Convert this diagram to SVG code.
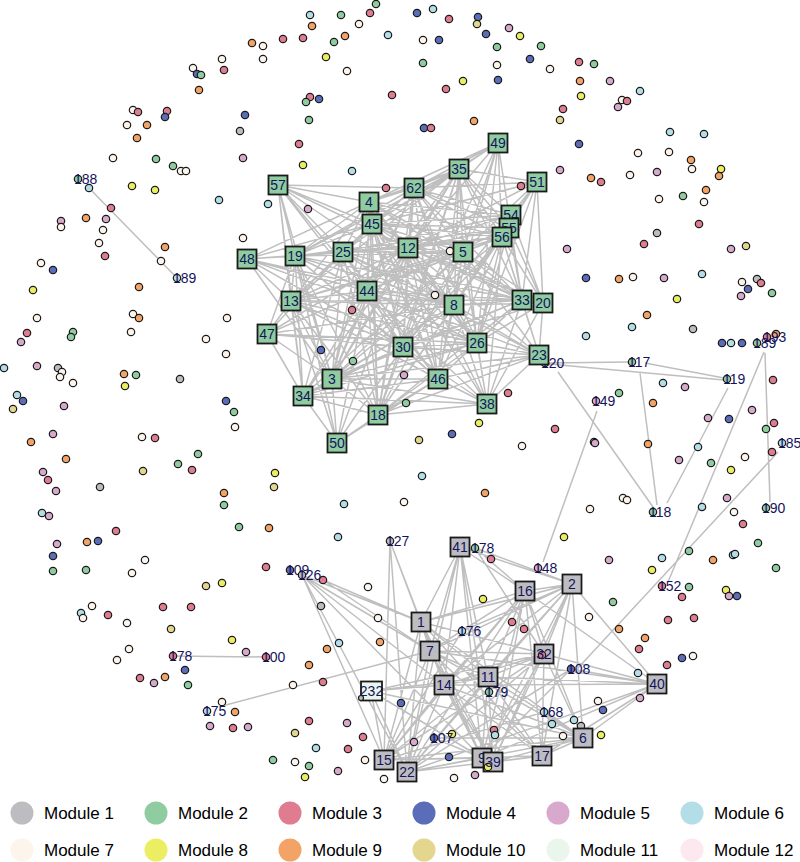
<svg xmlns="http://www.w3.org/2000/svg" width="800" height="862" viewBox="0 0 800 862">
<style>
.e{fill:none;stroke:#bfbfbf;stroke-width:1.5}
.d{stroke:#1a1a1a;stroke-width:1.2}
.s{stroke:#1a1a1a;stroke-width:1.8}
.k1{fill:#bdbcc0}.k2{fill:#8fcca0}.k3{fill:#e07c90}.k4{fill:#5b6cb8}.k5{fill:#d8a9cd}.k6{fill:#b3dde7}.k7{fill:#fdf4ec}.k8{fill:#ebee62}.k9{fill:#f3a365}.k10{fill:#e3d68f}.k11{fill:#eaf5ec}.k12{fill:#fce8ef}
.t{font-family:"Liberation Sans",Arial,sans-serif;font-size:14px;fill:#14145e}
.tc{text-anchor:middle}
.lg{font-family:"Liberation Sans",Arial,sans-serif;font-size:17px;fill:#000}
</style>
<rect width="800" height="862" fill="#fff"/>
<g id="connectors">
<path class="e" d="M369 202L372 224M369 202L414 188M369 202L459 169M369 202L408 248M369 202L463 252M369 202L343 252M369 202L295 256M369 202L367 291M369 202L291 301M369 202L454 305M369 202L522 300M369 202L403 347M369 202L477 343M369 202L438 379M369 202L332 379M369 202L378 415M369 202L502 237
M372 224L414 188M372 224L459 169M372 224L408 248M372 224L463 252M372 224L343 252M372 224L295 256M372 224L367 291M372 224L291 301M372 224L454 305M372 224L522 300M372 224L403 347M372 224L477 343M372 224L438 379M372 224L332 379M372 224L378 415M372 224L502 237
M414 188L459 169M414 188L408 248M414 188L463 252M414 188L343 252M414 188L295 256M414 188L367 291M414 188L291 301M414 188L454 305M414 188L522 300M414 188L403 347M414 188L477 343M414 188L438 379M414 188L332 379M414 188L378 415M414 188L502 237
M459 169L408 248M459 169L463 252M459 169L343 252M459 169L295 256M459 169L367 291M459 169L291 301M459 169L454 305M459 169L522 300M459 169L403 347M459 169L477 343M459 169L438 379M459 169L332 379M459 169L378 415M459 169L502 237
M408 248L463 252M408 248L343 252M408 248L295 256M408 248L367 291M408 248L291 301M408 248L454 305M408 248L522 300M408 248L403 347M408 248L477 343M408 248L438 379M408 248L332 379M408 248L378 415M408 248L502 237
M463 252L343 252M463 252L295 256M463 252L367 291M463 252L291 301M463 252L454 305M463 252L522 300M463 252L403 347M463 252L477 343M463 252L438 379M463 252L332 379M463 252L378 415M463 252L502 237
M343 252L295 256M343 252L367 291M343 252L291 301M343 252L454 305M343 252L522 300M343 252L403 347M343 252L477 343M343 252L438 379M343 252L332 379M343 252L378 415M343 252L502 237
M295 256L367 291M295 256L291 301M295 256L454 305M295 256L522 300M295 256L403 347M295 256L477 343M295 256L438 379M295 256L332 379M295 256L378 415M295 256L502 237
M367 291L291 301M367 291L454 305M367 291L522 300M367 291L403 347M367 291L477 343M367 291L438 379M367 291L332 379M367 291L378 415M367 291L502 237
M291 301L454 305M291 301L522 300M291 301L403 347M291 301L477 343M291 301L438 379M291 301L332 379M291 301L378 415M291 301L502 237
M454 305L522 300M454 305L403 347M454 305L477 343M454 305L438 379M454 305L332 379M454 305L378 415M454 305L502 237
M522 300L403 347M522 300L477 343M522 300L438 379M522 300L332 379M522 300L378 415M522 300L502 237
M403 347L477 343M403 347L438 379M403 347L332 379M403 347L378 415M403 347L502 237
M477 343L438 379M477 343L332 379M477 343L378 415M477 343L502 237
M438 379L332 379M438 379L378 415M438 379L502 237M332 379L378 415M332 379L502 237M378 415L502 237
M498 143L459 169M498 143L414 188M498 143L369 202M498 143L408 248M498 143L372 224M498 143L463 252M498 143L454 305M498 143L477 343M498 143L502 237M498 143L403 347M498 143L522 300
M278 185L369 202M278 185L414 188M278 185L372 224M278 185L295 256M278 185L291 301M278 185L343 252M278 185L408 248M278 185L367 291M278 185L303 396M278 185L403 347M278 185L454 305M278 185L332 379
M537 182L414 188M537 182L459 169M537 182L408 248M537 182L463 252M537 182L511 215M537 182L502 237M537 182L522 300M537 182L543 303M537 182L477 343M537 182L454 305M537 182L372 224
M247 259L295 256M247 259L343 252M247 259L372 224M247 259L369 202M247 259L408 248M247 259L367 291M247 259L403 347M247 259L291 301M247 259L454 305M247 259L332 379M247 259L477 343
M267 334L291 301M267 334L367 291M267 334L403 347M267 334L332 379M267 334L303 396M267 334L295 256M267 334L343 252M267 334L454 305M267 334L477 343M267 334L408 248
M337 443L303 396M337 443L378 415M337 443L332 379M337 443L291 301M337 443L403 347M337 443L367 291M337 443L438 379M337 443L295 256M337 443L408 248
M303 396L291 301M303 396L332 379M303 396L378 415M303 396L403 347M303 396L367 291M303 396L438 379M303 396L295 256M303 396L343 252M303 396L477 343M303 396L487 404M303 396L454 305M303 396L408 248M303 396L463 252
M487 404L438 379M487 404L477 343M487 404L539 355M487 404L522 300M487 404L543 303M487 404L378 415M487 404L403 347M487 404L454 305M487 404L463 252M487 404L502 237M487 404L332 379M487 404L408 248M487 404L367 291M487 404L372 224
M543 303L522 300M543 303L539 355M543 303L502 237M543 303L511 215M543 303L509 228M543 303L477 343M543 303L463 252M543 303L454 305M543 303L408 248M543 303L372 224M543 303L403 347
M539 355L522 300M539 355L477 343M539 355L403 347M539 355L438 379M539 355L454 305M539 355L463 252M539 355L502 237M539 355L408 248M539 355L367 291M539 355L332 379M539 355L378 415M539 355L343 252M539 355L545 363
M511 215L459 169M511 215L414 188M511 215L408 248M511 215L372 224M511 215L369 202M511 215L454 305M511 215L343 252M511 215L403 347
M509 228L459 169M509 228L414 188M509 228L408 248M509 228L372 224M509 228L367 291M509 228L477 343M509 228L522 300M509 228L295 256"/>
<path class="e" d="M390 541L421 622M390 541L384 760M390 541L407 772M390 541L444 685
M302 575L421 622M302 575L430 651M302 575L384 760M302 575L444 685M302 575L407 772M302 575L482 758M323 580L421 622M323 580L430 651
M460 547L421 622M460 547L430 651M460 547L444 685M460 547L525 591M460 547L572 584M460 547L488 677M460 547L482 758M460 547L493 762M460 547L407 772
M475 548L572 584M475 548L525 591M475 548L544 654
M421 622L525 591M421 622L572 584M421 622L488 677M421 622L444 685M421 622L384 760M421 622L407 772M421 622L482 758M421 622L493 762M421 622L583 738M421 622L542 756M421 622L544 654M421 622L430 651
M430 651L525 591M430 651L572 584M430 651L544 654M430 651L488 677M430 651L482 758M430 651L493 762M430 651L407 772M430 651L384 760M430 651L583 738M430 651L542 756M430 651L657 684
M444 685L525 591M444 685L572 584M444 685L544 654M444 685L488 677M444 685L482 758M444 685L493 762M444 685L407 772M444 685L384 760M444 685L542 756M444 685L583 738M444 685L657 684M444 685L371 691
M371 691L488 677M371 691L384 760M371 691L407 772M371 691L482 758M371 691L583 738M371 691L544 654
M525 591L572 584M525 591L544 654M525 591L488 677M525 591L482 758M525 591L493 762M525 591L407 772M525 591L384 760M525 591L542 756M525 591L583 738M525 591L657 684
M572 584L544 654M572 584L488 677M572 584L482 758M572 584L493 762M572 584L542 756M572 584L583 738M572 584L657 684M572 584L407 772
M544 654L482 758M544 654L493 762M544 654L542 756M544 654L583 738M544 654L657 684M544 654L488 677M544 654L407 772M544 654L384 760
M488 677L482 758M488 677L493 762M488 677L542 756M488 677L583 738M488 677L657 684M488 677L384 760M488 677L407 772
M657 684L583 738M657 684L482 758M657 684L407 772M657 684L571 669M657 684L542 756
M583 738L542 756M583 738L493 762M583 738L407 772M583 738L384 760M542 756L493 762M542 756L407 772M542 756L384 760M482 758L407 772M482 758L384 760
M434 738L482 758M434 738L583 738M462 631L572 584M462 631L384 760M571 669L482 758M571 669L407 772M544 712L583 738M544 712L384 760"/>
<path class="e" d="M89 188L177 278M173 656L266 657M222 706L430 651
M549 363L628 362M549 364L724 380M645 363L724 378M558 372L653 507M640 373L657 505M728 388L667 503M597 411L543 562
M764 352L668 582M765 353L770 502M778 452L578 668"/>
</g>
<g id="dots">
<g id="v1"><circle class="d k6" cx="310" cy="15" r="3.7"/></g>
<g id="v2"><circle class="d k2" cx="341" cy="15" r="3.7"/></g>
<g id="v3"><circle class="d k3" cx="370" cy="13" r="3.7"/></g>
<g id="v4"><circle class="d k2" cx="376" cy="4" r="3.7"/></g>
<g id="v5"><circle class="d k9" cx="312" cy="26" r="3.7"/></g>
<g id="v6"><circle class="d k7" cx="359" cy="24" r="3.7"/></g>
<g id="v7"><circle class="d k6" cx="388" cy="35" r="3.7"/></g>
<g id="v8"><circle class="d k9" cx="252" cy="43" r="3.7"/></g>
<g id="v9"><circle class="d k7" cx="263" cy="46" r="3.7"/></g>
<g id="v10"><circle class="d k3" cx="283" cy="39" r="3.7"/></g>
<g id="v11"><circle class="d k3" cx="303" cy="38" r="3.7"/></g>
<g id="v12"><circle class="d k2" cx="334" cy="42" r="3.7"/></g>
<g id="v13"><circle class="d k9" cx="345" cy="36" r="3.7"/></g>
<g id="v14"><circle class="d k8" cx="326" cy="57" r="3.7"/></g>
<g id="v15"><circle class="d k7" cx="222" cy="59" r="3.7"/></g>
<g id="v16"><circle class="d k7" cx="263" cy="59" r="3.7"/></g>
<g id="v17"><circle class="d k7" cx="193" cy="68" r="3.7"/></g>
<g id="v18"><circle class="d k4" cx="197" cy="74" r="3.7"/></g>
<g id="v19"><circle class="d k2" cx="201" cy="75" r="3.7"/></g>
<g id="v20"><circle class="d k3" cx="224" cy="70" r="3.7"/></g>
<g id="v21"><circle class="d k7" cx="347" cy="71" r="3.7"/></g>
<g id="v22"><circle class="d k9" cx="199" cy="90" r="3.7"/></g>
<g id="v23"><circle class="d k3" cx="392" cy="95" r="3.7"/></g>
<g id="v24"><circle class="d k3" cx="310" cy="97" r="3.7"/></g>
<g id="v25"><circle class="d k2" cx="306" cy="102" r="3.7"/></g>
<g id="v26"><circle class="d k4" cx="319" cy="99" r="3.7"/></g>
<g id="v27"><circle class="d k7" cx="133" cy="110" r="3.7"/></g>
<g id="v28"><circle class="d k3" cx="138" cy="112" r="3.7"/></g>
<g id="v29"><circle class="d k3" cx="167" cy="111" r="3.7"/></g>
<g id="v30"><circle class="d k4" cx="165" cy="117" r="3.7"/></g>
<g id="v31"><circle class="d k4" cx="245" cy="115" r="3.7"/></g>
<g id="v32"><circle class="d k2" cx="309" cy="120" r="3.7"/></g>
<g id="v33"><circle class="d k7" cx="127" cy="125" r="3.7"/></g>
<g id="v34"><circle class="d k9" cx="147" cy="125" r="3.7"/></g>
<g id="v35"><circle class="d k9" cx="137" cy="138" r="3.7"/></g>
<g id="v36"><circle class="d k1" cx="240" cy="131" r="3.7"/></g>
<g id="v37"><circle class="d k3" cx="299" cy="144" r="3.7"/></g>
<g id="v38"><circle class="d k5" cx="243" cy="158" r="3.7"/></g>
<g id="v39"><circle class="d k7" cx="113" cy="158" r="3.7"/></g>
<g id="v40"><circle class="d k2" cx="156" cy="159" r="3.7"/></g>
<g id="v41"><circle class="d k2" cx="173" cy="166" r="3.7"/></g>
<g id="v42"><circle class="d k7" cx="181" cy="171" r="3.7"/></g>
<g id="v43"><circle class="d k7" cx="186" cy="171" r="3.7"/></g>
<g id="v44"><circle class="d k8" cx="303" cy="165" r="3.7"/></g>
<g id="v45"><circle class="d k6" cx="352" cy="171" r="3.7"/></g>
<g id="v46"><circle class="d k3" cx="386" cy="188" r="3.7"/></g>
<g id="v48"><circle class="d k6" cx="89" cy="188" r="3.7"/></g>
<g id="v49"><circle class="d k8" cx="132" cy="186" r="3.7"/></g>
<g id="v50"><circle class="d k8" cx="155" cy="190" r="3.7"/></g>
<g id="v51"><circle class="d k6" cx="219" cy="200" r="3.7"/></g>
<g id="v52"><circle class="d k6" cx="268" cy="204" r="3.7"/></g>
<g id="v53"><circle class="d k5" cx="308" cy="209" r="3.7"/></g>
<g id="v54"><circle class="d k3" cx="111" cy="208" r="3.7"/></g>
<g id="v55"><circle class="d k5" cx="61" cy="221" r="3.7"/></g>
<g id="v56"><circle class="d k7" cx="61" cy="227" r="3.7"/></g>
<g id="v57"><circle class="d k9" cx="86" cy="218" r="3.7"/></g>
<g id="v58"><circle class="d k5" cx="106" cy="219" r="3.7"/></g>
<g id="v59"><circle class="d k7" cx="103" cy="230" r="3.7"/></g>
<g id="v60"><circle class="d k7" cx="99" cy="243" r="3.7"/></g>
<g id="v61"><circle class="d k3" cx="105" cy="256" r="3.7"/></g>
<g id="v62"><circle class="d k9" cx="165" cy="247" r="3.7"/></g>
<g id="v63"><circle class="d k7" cx="161" cy="261" r="3.7"/></g>
<g id="v64"><circle class="d k7" cx="41" cy="263" r="3.7"/></g>
<g id="v65"><circle class="d k4" cx="53" cy="270" r="3.7"/></g>
<g id="v66"><circle class="d k8" cx="33" cy="290" r="3.7"/></g>
<g id="v67"><circle class="d k9" cx="139" cy="287" r="3.7"/></g>
<g id="v68"><circle class="d k7" cx="243" cy="238" r="3.7"/></g>
<g id="v70"><circle class="d k4" cx="417" cy="13" r="3.7"/></g>
<g id="v71"><circle class="d k6" cx="433" cy="9" r="3.7"/></g>
<g id="v72"><circle class="d k3" cx="449" cy="19" r="3.7"/></g>
<g id="v73"><circle class="d k4" cx="478" cy="17" r="3.7"/></g>
<g id="v74"><circle class="d k10" cx="477" cy="24" r="3.7"/></g>
<g id="v75"><circle class="d k4" cx="486" cy="34" r="3.7"/></g>
<g id="v76"><circle class="d k5" cx="509" cy="28" r="3.7"/></g>
<g id="v77"><circle class="d k8" cx="520" cy="36" r="3.7"/></g>
<g id="v78"><circle class="d k7" cx="423" cy="40" r="3.7"/></g>
<g id="v79"><circle class="d k4" cx="439" cy="40" r="3.7"/></g>
<g id="v80"><circle class="d k2" cx="497" cy="47" r="3.7"/></g>
<g id="v81"><circle class="d k2" cx="541" cy="46" r="3.7"/></g>
<g id="v82"><circle class="d k4" cx="530" cy="59" r="3.7"/></g>
<g id="v83"><circle class="d k7" cx="497" cy="65" r="3.7"/></g>
<g id="v84"><circle class="d k7" cx="550" cy="69" r="3.7"/></g>
<g id="v85"><circle class="d k3" cx="579" cy="62" r="3.7"/></g>
<g id="v86"><circle class="d k2" cx="594" cy="64" r="3.7"/></g>
<g id="v87"><circle class="d k2" cx="423" cy="63" r="3.7"/></g>
<g id="v88"><circle class="d k8" cx="463" cy="81" r="3.7"/></g>
<g id="v89"><circle class="d k4" cx="498" cy="80" r="3.7"/></g>
<g id="v90"><circle class="d k9" cx="580" cy="81" r="3.7"/></g>
<g id="v91"><circle class="d k5" cx="610" cy="81" r="3.7"/></g>
<g id="v92"><circle class="d k3" cx="446" cy="89" r="3.7"/></g>
<g id="v93"><circle class="d k8" cx="581" cy="96" r="3.7"/></g>
<g id="v94"><circle class="d k7" cx="622" cy="100" r="3.7"/></g>
<g id="v95"><circle class="d k3" cx="627" cy="101" r="3.7"/></g>
<g id="v96"><circle class="d k6" cx="640" cy="91" r="3.7"/></g>
<g id="v97"><circle class="d k5" cx="618" cy="107" r="3.7"/></g>
<g id="v98"><circle class="d k3" cx="563" cy="109" r="3.7"/></g>
<g id="v99"><circle class="d k10" cx="560" cy="120" r="3.7"/></g>
<g id="v100"><circle class="d k4" cx="424" cy="128" r="3.7"/></g>
<g id="v101"><circle class="d k3" cx="431" cy="128" r="3.7"/></g>
<g id="v102"><circle class="d k9" cx="474" cy="121" r="3.7"/></g>
<g id="v103"><circle class="d k4" cx="579" cy="144" r="3.7"/></g>
<g id="v104"><circle class="d k6" cx="670" cy="132" r="3.7"/></g>
<g id="v105"><circle class="d k6" cx="704" cy="134" r="3.7"/></g>
<g id="v106"><circle class="d k7" cx="638" cy="153" r="3.7"/></g>
<g id="v107"><circle class="d k7" cx="669" cy="152" r="3.7"/></g>
<g id="v108"><circle class="d k9" cx="691" cy="160" r="3.7"/></g>
<g id="v109"><circle class="d k7" cx="692" cy="169" r="3.7"/></g>
<g id="v110"><circle class="d k8" cx="721" cy="169" r="3.7"/></g>
<g id="v111"><circle class="d k9" cx="719" cy="176" r="3.7"/></g>
<g id="v112"><circle class="d k5" cx="560" cy="170" r="3.7"/></g>
<g id="v113"><circle class="d k9" cx="591" cy="178" r="3.7"/></g>
<g id="v114"><circle class="d k3" cx="601" cy="182" r="3.7"/></g>
<g id="v115"><circle class="d k7" cx="630" cy="175" r="3.7"/></g>
<g id="v116"><circle class="d k5" cx="657" cy="172" r="3.7"/></g>
<g id="v117"><circle class="d k3" cx="521" cy="186" r="3.7"/></g>
<g id="v118"><circle class="d k2" cx="683" cy="196" r="3.7"/></g>
<g id="v119"><circle class="d k9" cx="706" cy="190" r="3.7"/></g>
<g id="v120"><circle class="d k7" cx="659" cy="199" r="3.7"/></g>
<g id="v121"><circle class="d k7" cx="704" cy="202" r="3.7"/></g>
<g id="v122"><circle class="d k3" cx="699" cy="224" r="3.7"/></g>
<g id="v123"><circle class="d k1" cx="657" cy="233" r="3.7"/></g>
<g id="v124"><circle class="d k3" cx="644" cy="244" r="3.7"/></g>
<g id="v125"><circle class="d k5" cx="731" cy="249" r="3.7"/></g>
<g id="v126"><circle class="d k10" cx="746" cy="246" r="3.7"/></g>
<g id="v127"><circle class="d k5" cx="567" cy="249" r="3.7"/></g>
<g id="v129"><circle class="d k4" cx="586" cy="278" r="3.7"/></g>
<g id="v130"><circle class="d k9" cx="619" cy="279" r="3.7"/></g>
<g id="v131"><circle class="d k7" cx="633" cy="277" r="3.7"/></g>
<g id="v132"><circle class="d k5" cx="664" cy="278" r="3.7"/></g>
<g id="v133"><circle class="d k6" cx="702" cy="274" r="3.7"/></g>
<g id="v134"><circle class="d k8" cx="677" cy="299" r="3.7"/></g>
<g id="v135"><circle class="d k9" cx="647" cy="315" r="3.7"/></g>
<g id="v136"><circle class="d k7" cx="742" cy="282" r="3.7"/></g>
<g id="v137"><circle class="d k1" cx="757" cy="279" r="3.7"/></g>
<g id="v138"><circle class="d k3" cx="761" cy="283" r="3.7"/></g>
<g id="v139"><circle class="d k4" cx="748" cy="289" r="3.7"/></g>
<g id="v140"><circle class="d k5" cx="741" cy="296" r="3.7"/></g>
<g id="v141"><circle class="d k2" cx="772" cy="293" r="3.7"/></g>
<g id="v142"><circle class="d k7" cx="435" cy="295" r="3.7"/></g>
<g id="v143"><circle class="d k3" cx="352" cy="310" r="3.7"/></g>
<g id="v144"><circle class="d k4" cx="321" cy="350" r="3.7"/></g>
<g id="v145"><circle class="d k2" cx="353" cy="361" r="3.7"/></g>
<g id="v146"><circle class="d k5" cx="404" cy="375" r="3.7"/></g>
<g id="v147"><circle class="d k2" cx="406" cy="403" r="3.7"/></g>
<g id="v148"><circle class="d k3" cx="508" cy="393" r="3.7"/></g>
<g id="v149"><circle class="d k8" cx="479" cy="423" r="3.7"/></g>
<g id="v150"><circle class="d k4" cx="452" cy="434" r="3.7"/></g>
<g id="v151"><circle class="d k10" cx="419" cy="440" r="3.7"/></g>
<g id="v152"><circle class="d k7" cx="522" cy="446" r="3.7"/></g>
<g id="v153"><circle class="d k3" cx="555" cy="429" r="3.7"/></g>
<g id="v154"><circle class="d k2" cx="234" cy="412" r="3.7"/></g>
<g id="v155"><circle class="d k7" cx="235" cy="427" r="3.7"/></g>
<g id="v156"><circle class="d k7" cx="37" cy="318" r="3.7"/></g>
<g id="v157"><circle class="d k7" cx="133" cy="314" r="3.7"/></g>
<g id="v158"><circle class="d k9" cx="139" cy="318" r="3.7"/></g>
<g id="v159"><circle class="d k7" cx="227" cy="318" r="3.7"/></g>
<g id="v160"><circle class="d k2" cx="73" cy="332" r="3.7"/></g>
<g id="v161"><circle class="d k2" cx="71" cy="337" r="3.7"/></g>
<g id="v162"><circle class="d k3" cx="27" cy="333" r="3.7"/></g>
<g id="v163"><circle class="d k5" cx="21" cy="342" r="3.7"/></g>
<g id="v164"><circle class="d k7" cx="131" cy="332" r="3.7"/></g>
<g id="v165"><circle class="d k7" cx="206" cy="339" r="3.7"/></g>
<g id="v166"><circle class="d k7" cx="226" cy="354" r="3.7"/></g>
<g id="v167"><circle class="d k6" cx="4" cy="368" r="3.7"/></g>
<g id="v168"><circle class="d k5" cx="37" cy="366" r="3.7"/></g>
<g id="v169"><circle class="d k1" cx="58" cy="368" r="3.7"/></g>
<g id="v170"><circle class="d k7" cx="62" cy="372" r="3.7"/></g>
<g id="v171"><circle class="d k7" cx="60" cy="377" r="3.7"/></g>
<g id="v172"><circle class="d k7" cx="73" cy="383" r="3.7"/></g>
<g id="v173"><circle class="d k9" cx="124" cy="374" r="3.7"/></g>
<g id="v174"><circle class="d k2" cx="136" cy="375" r="3.7"/></g>
<g id="v175"><circle class="d k8" cx="125" cy="386" r="3.7"/></g>
<g id="v176"><circle class="d k1" cx="180" cy="379" r="3.7"/></g>
<g id="v177"><circle class="d k6" cx="17" cy="395" r="3.7"/></g>
<g id="v178"><circle class="d k4" cx="23" cy="401" r="3.7"/></g>
<g id="v179"><circle class="d k10" cx="13" cy="409" r="3.7"/></g>
<g id="v180"><circle class="d k5" cx="64" cy="406" r="3.7"/></g>
<g id="v181"><circle class="d k4" cx="226" cy="401" r="3.7"/></g>
<g id="v182"><circle class="d k5" cx="53" cy="434" r="3.7"/></g>
<g id="v183"><circle class="d k9" cx="31" cy="442" r="3.7"/></g>
<g id="v184"><circle class="d k7" cx="142" cy="437" r="3.7"/></g>
<g id="v185"><circle class="d k3" cx="155" cy="438" r="3.7"/></g>
<g id="v186"><circle class="d k2" cx="198" cy="454" r="3.7"/></g>
<g id="v187"><circle class="d k2" cx="178" cy="464" r="3.7"/></g>
<g id="v188"><circle class="d k3" cx="192" cy="470" r="3.7"/></g>
<g id="v189"><circle class="d k9" cx="66" cy="459" r="3.7"/></g>
<g id="v190"><circle class="d k10" cx="143" cy="471" r="3.7"/></g>
<g id="v191"><circle class="d k5" cx="43" cy="472" r="3.7"/></g>
<g id="v192"><circle class="d k3" cx="48" cy="480" r="3.7"/></g>
<g id="v193"><circle class="d k5" cx="56" cy="491" r="3.7"/></g>
<g id="v194"><circle class="d k1" cx="100" cy="487" r="3.7"/></g>
<g id="v195"><circle class="d k8" cx="275" cy="473" r="3.7"/></g>
<g id="v196"><circle class="d k10" cx="274" cy="487" r="3.7"/></g>
<g id="v197"><circle class="d k9" cx="224" cy="493" r="3.7"/></g>
<g id="v198"><circle class="d k2" cx="224" cy="505" r="3.7"/></g>
<g id="v199"><circle class="d k6" cx="42" cy="513" r="3.7"/></g>
<g id="v200"><circle class="d k5" cx="49" cy="516" r="3.7"/></g>
<g id="v201"><circle class="d k2" cx="239" cy="527" r="3.7"/></g>
<g id="v202"><circle class="d k9" cx="269" cy="528" r="3.7"/></g>
<g id="v203"><circle class="d k3" cx="116" cy="531" r="3.7"/></g>
<g id="v204"><circle class="d k5" cx="57" cy="544" r="3.7"/></g>
<g id="v205"><circle class="d k9" cx="87" cy="542" r="3.7"/></g>
<g id="v206"><circle class="d k4" cx="98" cy="541" r="3.7"/></g>
<g id="v207"><circle class="d k4" cx="53" cy="556" r="3.7"/></g>
<g id="v208"><circle class="d k2" cx="53" cy="571" r="3.7"/></g>
<g id="v209"><circle class="d k2" cx="86" cy="570" r="3.7"/></g>
<g id="v210"><circle class="d k7" cx="145" cy="560" r="3.7"/></g>
<g id="v211"><circle class="d k7" cx="132" cy="573" r="3.7"/></g>
<g id="v212"><circle class="d k3" cx="266" cy="567" r="3.7"/></g>
<g id="v213"><circle class="d k10" cx="206" cy="586" r="3.7"/></g>
<g id="v214"><circle class="d k8" cx="222" cy="583" r="3.7"/></g>
<g id="v215"><circle class="d k7" cx="92" cy="606" r="3.7"/></g>
<g id="v216"><circle class="d k6" cx="81" cy="613" r="3.7"/></g>
<g id="v217"><circle class="d k7" cx="83" cy="618" r="3.7"/></g>
<g id="v218"><circle class="d k3" cx="108" cy="615" r="3.7"/></g>
<g id="v219"><circle class="d k7" cx="127" cy="623" r="3.7"/></g>
<g id="v220"><circle class="d k3" cx="163" cy="607" r="3.7"/></g>
<g id="v221"><circle class="d k3" cx="191" cy="607" r="3.7"/></g>
<g id="v222"><circle class="d k10" cx="171" cy="629" r="3.7"/></g>
<g id="v223"><circle class="d k8" cx="232" cy="640" r="3.7"/></g>
<g id="v224"><circle class="d k5" cx="246" cy="652" r="3.7"/></g>
<g id="v225"><circle class="d k7" cx="129" cy="649" r="3.7"/></g>
<g id="v226"><circle class="d k7" cx="117" cy="660" r="3.7"/></g>
<g id="v227"><circle class="d k4" cx="185" cy="670" r="3.7"/></g>
<g id="v228"><circle class="d k3" cx="140" cy="678" r="3.7"/></g>
<g id="v229"><circle class="d k5" cx="154" cy="683" r="3.7"/></g>
<g id="v230"><circle class="d k9" cx="165" cy="677" r="3.7"/></g>
<g id="v231"><circle class="d k2" cx="188" cy="685" r="3.7"/></g>
<g id="v232d"><circle class="d k7" cx="222" cy="702" r="3.7"/></g>
<g id="v233"><circle class="d k9" cx="235" cy="712" r="3.7"/></g>
<g id="v234"><circle class="d k5" cx="210" cy="726" r="3.7"/></g>
<g id="v235"><circle class="d k3" cx="233" cy="728" r="3.7"/></g>
<g id="v236"><circle class="d k5" cx="248" cy="727" r="3.7"/></g>
<g id="v237"><circle class="d k10" cx="295" cy="733" r="3.7"/></g>
<g id="v238"><circle class="d k2" cx="273" cy="760" r="3.7"/></g>
<g id="v239"><circle class="d k7" cx="295" cy="762" r="3.7"/></g>
<g id="v240"><circle class="d k7" cx="293" cy="685" r="3.7"/></g>
<g id="v241"><circle class="d k6" cx="344" cy="504" r="3.7"/></g>
<g id="v242"><circle class="d k7" cx="404" cy="502" r="3.7"/></g>
<g id="v243"><circle class="d k6" cx="422" cy="476" r="3.7"/></g>
<g id="v244"><circle class="d k9" cx="485" cy="493" r="3.7"/></g>
<g id="v245"><circle class="d k7" cx="590" cy="509" r="3.7"/></g>
<g id="v246"><circle class="d k8" cx="564" cy="537" r="3.7"/></g>
<g id="v247"><circle class="d k6" cx="338" cy="537" r="3.7"/></g>
<g id="v248"><circle class="d k5" cx="594" cy="442" r="3.7"/></g>
<g id="v249"><circle class="d k7" cx="368" cy="587" r="3.7"/></g>
<g id="v250"><circle class="d k3" cx="323" cy="580" r="3.7"/></g>
<g id="v251"><circle class="d k1" cx="321" cy="606" r="3.7"/></g>
<g id="v252"><circle class="d k7" cx="378" cy="618" r="3.7"/></g>
<g id="v253"><circle class="d k9" cx="380" cy="642" r="3.7"/></g>
<g id="v254"><circle class="d k6" cx="339" cy="643" r="3.7"/></g>
<g id="v255"><circle class="d k9" cx="327" cy="649" r="3.7"/></g>
<g id="v256"><circle class="d k9" cx="309" cy="665" r="3.7"/></g>
<g id="v257"><circle class="d k3" cx="323" cy="682" r="3.7"/></g>
<g id="v258"><circle class="d k4" cx="401" cy="703" r="3.7"/></g>
<g id="v259"><circle class="d k3" cx="309" cy="721" r="3.7"/></g>
<g id="v260"><circle class="d k5" cx="347" cy="723" r="3.7"/></g>
<g id="v261"><circle class="d k3" cx="363" cy="737" r="3.7"/></g>
<g id="v262"><circle class="d k6" cx="316" cy="748" r="3.7"/></g>
<g id="v263"><circle class="d k3" cx="348" cy="749" r="3.7"/></g>
<g id="v264"><circle class="d k5" cx="414" cy="742" r="3.7"/></g>
<g id="v265"><circle class="d k8" cx="452" cy="734" r="3.7"/></g>
<g id="v266"><circle class="d k2" cx="309" cy="766" r="3.7"/></g>
<g id="v267"><circle class="d k7" cx="365" cy="760" r="3.7"/></g>
<g id="v268"><circle class="d k5" cx="338" cy="771" r="3.7"/></g>
<g id="v269"><circle class="d k8" cx="305" cy="777" r="3.7"/></g>
<g id="v271"><circle class="d k4" cx="449" cy="757" r="3.7"/></g>
<g id="v272"><circle class="d k5" cx="475" cy="775" r="3.7"/></g>
<g id="v273"><circle class="d k7" cx="454" cy="778" r="3.7"/></g>
<g id="v274"><circle class="d k7" cx="384" cy="779" r="3.7"/></g>
<g id="v275"><circle class="d k3" cx="491" cy="559" r="3.7"/></g>
<g id="v276"><circle class="d k8" cx="483" cy="599" r="3.7"/></g>
<g id="v277"><circle class="d k3" cx="512" cy="622" r="3.7"/></g>
<g id="v278"><circle class="d k3" cx="524" cy="629" r="3.7"/></g>
<g id="v279"><circle class="d k5" cx="609" cy="560" r="3.7"/></g>
<g id="v280"><circle class="d k6" cx="662" cy="558" r="3.7"/></g>
<g id="v281"><circle class="d k8" cx="652" cy="570" r="3.7"/></g>
<g id="v282"><circle class="d k2" cx="613" cy="602" r="3.7"/></g>
<g id="v283"><circle class="d k7" cx="589" cy="617" r="3.7"/></g>
<g id="v284"><circle class="d k9" cx="619" cy="629" r="3.7"/></g>
<g id="v285"><circle class="d k9" cx="645" cy="638" r="3.7"/></g>
<g id="v286"><circle class="d k3" cx="639" cy="649" r="3.7"/></g>
<g id="v287"><circle class="d k3" cx="668" cy="620" r="3.7"/></g>
<g id="v288"><circle class="d k3" cx="667" cy="665" r="3.7"/></g>
<g id="v289d"><circle class="d k6" cx="638" cy="673" r="3.7"/></g>
<g id="v290d"><circle class="d k5" cx="640" cy="698" r="3.7"/></g>
<g id="v291"><circle class="d k7" cx="598" cy="701" r="3.7"/></g>
<g id="v292"><circle class="d k4" cx="603" cy="710" r="3.7"/></g>
<g id="v293"><circle class="d k6" cx="552" cy="724" r="3.7"/></g>
<g id="v294"><circle class="d k6" cx="574" cy="720" r="3.7"/></g>
<g id="v295"><circle class="d k1" cx="581" cy="726" r="3.7"/></g>
<g id="v296"><circle class="d k7" cx="563" cy="736" r="3.7"/></g>
<g id="v297"><circle class="d k8" cx="601" cy="735" r="3.7"/></g>
<g id="v298"><circle class="d k3" cx="494" cy="730" r="3.7"/></g>
<g id="v299"><circle class="d k6" cx="495" cy="735" r="3.7"/></g>
<g id="v300"><circle class="d k6" cx="586" cy="336" r="3.7"/></g>
<g id="v301"><circle class="d k6" cx="632" cy="327" r="3.7"/></g>
<g id="v302"><circle class="d k1" cx="693" cy="329" r="3.7"/></g>
<g id="v303"><circle class="d k4" cx="722" cy="343" r="3.7"/></g>
<g id="v304"><circle class="d k6" cx="731" cy="343" r="3.7"/></g>
<g id="v305"><circle class="d k4" cx="742" cy="343" r="3.7"/></g>
<g id="v306"><circle class="d k6" cx="663" cy="383" r="3.7"/></g>
<g id="v307"><circle class="d k5" cx="685" cy="387" r="3.7"/></g>
<g id="v308"><circle class="d k2" cx="619" cy="393" r="3.7"/></g>
<g id="v309"><circle class="d k9" cx="653" cy="403" r="3.7"/></g>
<g id="v310"><circle class="d k5" cx="595" cy="443" r="3.7"/></g>
<g id="v311"><circle class="d k9" cx="648" cy="444" r="3.7"/></g>
<g id="v312"><circle class="d k5" cx="708" cy="418" r="3.7"/></g>
<g id="v313"><circle class="d k4" cx="729" cy="419" r="3.7"/></g>
<g id="v314"><circle class="d k5" cx="752" cy="410" r="3.7"/></g>
<g id="v315"><circle class="d k3" cx="773" cy="380" r="3.7"/></g>
<g id="v316"><circle class="d k2" cx="766" cy="429" r="3.7"/></g>
<g id="v317"><circle class="d k3" cx="774" cy="423" r="3.7"/></g>
<g id="v318"><circle class="d k6" cx="698" cy="447" r="3.7"/></g>
<g id="v319"><circle class="d k5" cx="679" cy="460" r="3.7"/></g>
<g id="v320"><circle class="d k2" cx="711" cy="463" r="3.7"/></g>
<g id="v321"><circle class="d k7" cx="745" cy="457" r="3.7"/></g>
<g id="v322"><circle class="d k8" cx="731" cy="470" r="3.7"/></g>
<g id="v323"><circle class="d k3" cx="772" cy="452" r="3.7"/></g>
<g id="v324"><circle class="d k7" cx="623" cy="498" r="3.7"/></g>
<g id="v325"><circle class="d k7" cx="627" cy="500" r="3.7"/></g>
<g id="v326"><circle class="d k6" cx="702" cy="507" r="3.7"/></g>
<g id="v327"><circle class="d k5" cx="727" cy="498" r="3.7"/></g>
<g id="v328"><circle class="d k7" cx="734" cy="512" r="3.7"/></g>
<g id="v329"><circle class="d k3" cx="743" cy="524" r="3.7"/></g>
<g id="v330"><circle class="d k2" cx="758" cy="543" r="3.7"/></g>
<g id="v331"><circle class="d k2" cx="776" cy="568" r="3.7"/></g>
<g id="v332"><circle class="d k2" cx="689" cy="551" r="3.7"/></g>
<g id="v333"><circle class="d k9" cx="713" cy="560" r="3.7"/></g>
<g id="v334"><circle class="d k6" cx="733" cy="555" r="3.7"/></g>
<g id="v335"><circle class="d k6" cx="735" cy="554" r="3.7"/></g>
<g id="v336"><circle class="d k2" cx="689" cy="587" r="3.7"/></g>
<g id="v337"><circle class="d k3" cx="682" cy="597" r="3.7"/></g>
<g id="v338"><circle class="d k8" cx="726" cy="590" r="3.7"/></g>
<g id="v339"><circle class="d k5" cx="729" cy="596" r="3.7"/></g>
<g id="v340"><circle class="d k4" cx="737" cy="596" r="3.7"/></g>
<g id="v341"><circle class="d k3" cx="694" cy="618" r="3.7"/></g>
<g id="v342"><circle class="d k4" cx="682" cy="658" r="3.7"/></g>
<g id="v343"><circle class="d k7" cx="693" cy="656" r="3.7"/></g>
</g>
<g id="labeled-nodes">
<g id="l188"><circle class="d k2" cx="78" cy="179" r="3.7"/><text class="t" x="74" y="184">188</text></g>
<g id="l189"><circle class="d k6" cx="177" cy="278" r="3.7"/><text class="t" x="173" y="283">189</text></g>
<g id="l178a"><circle class="d k3" cx="173" cy="656" r="3.7"/><text class="t" x="169" y="661">178</text></g>
<g id="l100"><circle class="d k3" cx="266" cy="657" r="3.7"/><text class="t" x="262" y="662">100</text></g>
<g id="l175"><circle class="d k6" cx="207" cy="711" r="3.7"/><text class="t" x="203" y="716">175</text></g>
<g id="l120"><circle class="d k2" cx="545" cy="363" r="3.7"/><text class="t" x="541" y="368">120</text></g>
<g id="l117"><circle class="d k2" cx="632" cy="362" r="3.7"/><text class="t" x="628" y="367">117</text></g>
<g id="l119"><circle class="d k2" cx="727" cy="379" r="3.7"/><text class="t" x="723" y="384">119</text></g>
<g id="l149"><circle class="d k5" cx="596" cy="401" r="3.7"/><text class="t" x="592" y="406">149</text></g>
<g id="l118"><circle class="d k2" cx="653" cy="512" r="3.7"/><text class="t" x="649" y="517">118</text></g>
<g id="l190"><circle class="d k2" cx="766" cy="508" r="3.7"/><text class="t" x="762" y="513">190</text></g>
<g id="l185"><circle class="d k6" cx="782" cy="443" r="3.7"/><text class="t" x="778" y="448">185</text></g>
<g id="l193"><circle class="d k3" cx="767" cy="337" r="3.7"/><circle class="d k9" cx="776" cy="334" r="3.7"/><text class="t" x="763" y="342">193</text></g>
<g id="l189b"><circle class="d k2" cx="757" cy="343" r="3.7"/><text class="t" x="753" y="348">189</text></g>
<g id="l152"><circle class="d k3" cx="662" cy="586" r="3.7"/><text class="t" x="658" y="591">152</text></g>
<g id="l148"><circle class="d k5" cx="538" cy="568" r="3.7"/><text class="t" x="534" y="573">148</text></g>
<g id="l178b"><circle class="d k2" cx="475" cy="548" r="3.7"/><text class="t" x="471" y="553">178</text></g>
<g id="l108"><circle class="d k4" cx="571" cy="669" r="3.7"/><text class="t" x="567" y="674">108</text></g>
<g id="l168"><circle class="d k6" cx="544" cy="712" r="3.7"/><text class="t" x="540" y="717">168</text></g>
<g id="l107"><circle class="d k4" cx="434" cy="738" r="3.7"/><text class="t" x="430" y="743">107</text></g>
<g id="l176"><circle class="d k6" cx="462" cy="631" r="3.7"/><text class="t" x="458" y="636">176</text></g>
<g id="l127"><circle class="d k1" cx="390" cy="541" r="3.7"/><text class="t" x="386" y="546">127</text></g>
<g id="l109"><circle class="d k4" cx="290" cy="570" r="3.7"/><text class="t" x="286" y="575">109</text></g>
<g id="l126"><circle class="d k1" cx="302" cy="575" r="3.7"/><text class="t" x="298" y="580">126</text></g>
</g>
<g id="module2-nodes">
<g id="n49"><rect class="s k2" x="488.5" y="133.5" width="19" height="19"/><text class="t tc" x="498" y="148">49</text></g>
<g id="n35"><rect class="s k2" x="449.5" y="159.5" width="19" height="19"/><text class="t tc" x="459" y="174">35</text></g>
<g id="n57"><rect class="s k2" x="268.5" y="175.5" width="19" height="19"/><text class="t tc" x="278" y="190">57</text></g>
<g id="n62"><rect class="s k2" x="404.5" y="178.5" width="19" height="19"/><text class="t tc" x="414" y="193">62</text></g>
<g id="n51"><rect class="s k2" x="527.5" y="172.5" width="19" height="19"/><text class="t tc" x="537" y="187">51</text></g>
<g id="n4"><rect class="s k2" x="359.5" y="192.5" width="19" height="19"/><text class="t tc" x="369" y="207">4</text></g>
<g id="n45"><rect class="s k2" x="362.5" y="214.5" width="19" height="19"/><text class="t tc" x="372" y="229">45</text></g>
<g id="n54"><rect class="s k2" x="501.5" y="205.5" width="19" height="19"/><text class="t tc" x="511" y="220">54</text></g>
<g id="n55"><rect class="s k2" x="499.5" y="218.5" width="19" height="19"/><text class="t tc" x="509" y="233">55</text></g>
<g id="n56"><rect class="s k2" x="492.5" y="227.5" width="19" height="19"/><text class="t tc" x="502" y="242">56</text></g>
<g id="n48"><rect class="s k2" x="237.5" y="249.5" width="19" height="19"/><text class="t tc" x="247" y="264">48</text></g>
<g id="n19"><rect class="s k2" x="285.5" y="246.5" width="19" height="19"/><text class="t tc" x="295" y="261">19</text></g>
<g id="n25"><rect class="s k2" x="333.5" y="242.5" width="19" height="19"/><text class="t tc" x="343" y="257">25</text></g>
<g id="n12"><rect class="s k2" x="398.5" y="238.5" width="19" height="19"/><text class="t tc" x="408" y="253">12</text></g>
<g id="n5"><circle class="d k7" cx="450" cy="251" r="3.7"/><rect class="s k2" x="453.5" y="242.5" width="19" height="19"/><text class="t tc" x="463" y="257">5</text></g>
<g id="n44"><rect class="s k2" x="357.5" y="281.5" width="19" height="19"/><text class="t tc" x="367" y="296">44</text></g>
<g id="n13"><rect class="s k2" x="281.5" y="291.5" width="19" height="19"/><text class="t tc" x="291" y="306">13</text></g>
<g id="n8"><rect class="s k2" x="444.5" y="295.5" width="19" height="19"/><text class="t tc" x="454" y="310">8</text></g>
<g id="n33"><rect class="s k2" x="512.5" y="290.5" width="19" height="19"/><text class="t tc" x="522" y="305">33</text></g>
<g id="n20"><rect class="s k2" x="533.5" y="293.5" width="19" height="19"/><text class="t tc" x="543" y="308">20</text></g>
<g id="n47"><rect class="s k2" x="257.5" y="324.5" width="19" height="19"/><text class="t tc" x="267" y="339">47</text></g>
<g id="n30"><rect class="s k2" x="393.5" y="337.5" width="19" height="19"/><text class="t tc" x="403" y="352">30</text></g>
<g id="n26"><rect class="s k2" x="467.5" y="333.5" width="19" height="19"/><text class="t tc" x="477" y="348">26</text></g>
<g id="n23"><rect class="s k2" x="529.5" y="345.5" width="19" height="19"/><text class="t tc" x="539" y="360">23</text></g>
<g id="n3"><rect class="s k2" x="322.5" y="369.5" width="19" height="19"/><text class="t tc" x="332" y="384">3</text></g>
<g id="n46"><rect class="s k2" x="428.5" y="369.5" width="19" height="19"/><text class="t tc" x="438" y="384">46</text></g>
<g id="n34"><rect class="s k2" x="293.5" y="386.5" width="19" height="19"/><text class="t tc" x="303" y="401">34</text></g>
<g id="n38"><rect class="s k2" x="477.5" y="394.5" width="19" height="19"/><text class="t tc" x="487" y="409">38</text></g>
<g id="n18"><rect class="s k2" x="368.5" y="405.5" width="19" height="19"/><text class="t tc" x="378" y="420">18</text></g>
<g id="n50"><rect class="s k2" x="327.5" y="433.5" width="19" height="19"/><text class="t tc" x="337" y="448">50</text></g>
</g>
<g id="module1-nodes">
<g id="n41"><rect class="s k1" x="450.5" y="537.5" width="19" height="19"/><text class="t tc" x="460" y="552">41</text></g>
<g id="n1"><rect class="s k1" x="411.5" y="612.5" width="19" height="19"/><text class="t tc" x="421" y="627">1</text></g>
<g id="n7"><rect class="s k1" x="420.5" y="641.5" width="19" height="19"/><text class="t tc" x="430" y="656">7</text></g>
<g id="n14"><rect class="s k1" x="434.5" y="675.5" width="19" height="19"/><text class="t tc" x="444" y="690">14</text></g>
<g id="n232"><rect class="s k11" x="361" y="681.5" width="21" height="19"/><text class="t tc" x="371.5" y="696">232</text><circle class="d k1" cx="361" cy="698" r="2.5"/></g>
<g id="n15"><rect class="s k1" x="374.5" y="750.5" width="19" height="19"/><text class="t tc" x="384" y="765">15</text></g>
<g id="n22"><rect class="s k1" x="397.5" y="762.5" width="19" height="19"/><text class="t tc" x="407" y="777">22</text></g>
<g id="n16"><rect class="s k1" x="515.5" y="581.5" width="19" height="19"/><text class="t tc" x="525" y="596">16</text></g>
<g id="n2"><rect class="s k1" x="562.5" y="574.5" width="19" height="19"/><text class="t tc" x="572" y="589">2</text></g>
<g id="n32"><rect class="s k1" x="534.5" y="644.5" width="19" height="19"/><circle class="d k3" cx="542" cy="655" r="3.7"/><text class="t tc" x="544" y="659">32</text></g>
<g id="n11"><rect class="s k1" x="478.5" y="667.5" width="19" height="19"/><text class="t tc" x="488" y="682">11</text></g>
<g id="l179"><circle class="d k2" cx="489" cy="692" r="3.7"/><text class="t" x="485" y="697">179</text></g>
<g id="n40"><rect class="s k1" x="647.5" y="674.5" width="19" height="19"/><text class="t tc" x="657" y="689">40</text></g>
<g id="n6"><rect class="s k1" x="573.5" y="728.5" width="19" height="19"/><text class="t tc" x="583" y="743">6</text></g>
<g id="n17"><rect class="s k1" x="532.5" y="746.5" width="19" height="19"/><text class="t tc" x="542" y="761">17</text></g>
<g id="n9"><rect class="s k1" x="472.5" y="748.5" width="19" height="19"/><text class="t tc" x="482" y="763">9</text></g>
<g id="n39"><rect class="s k1" x="483.5" y="752.5" width="19" height="19"/><circle class="d k8" cx="488" cy="767" r="3.7"/><text class="t tc" x="493" y="767">39</text></g>
</g>
<g id="legend">
<circle class="k1" cx="22" cy="813" r="11.5"/><text class="lg" x="44" y="819">Module 1</text>
<circle class="k2" cx="156" cy="813" r="11.5"/><text class="lg" x="178" y="819">Module 2</text>
<circle class="k3" cx="290" cy="813" r="11.5"/><text class="lg" x="312" y="819">Module 3</text>
<circle class="k4" cx="424" cy="813" r="11.5"/><text class="lg" x="446" y="819">Module 4</text>
<circle class="k5" cx="558" cy="813" r="11.5"/><text class="lg" x="580" y="819">Module 5</text>
<circle class="k6" cx="692" cy="813" r="11.5"/><text class="lg" x="714" y="819">Module 6</text>
<circle class="k7" cx="22" cy="850" r="11.5"/><text class="lg" x="44" y="856">Module 7</text>
<circle class="k8" cx="156" cy="850" r="11.5"/><text class="lg" x="178" y="856">Module 8</text>
<circle class="k9" cx="290" cy="850" r="11.5"/><text class="lg" x="312" y="856">Module 9</text>
<circle class="k10" cx="424" cy="850" r="11.5"/><text class="lg" x="446" y="856">Module 10</text>
<circle class="k11" cx="558" cy="850" r="11.5"/><text class="lg" x="580" y="856">Module 11</text>
<circle class="k12" cx="692" cy="850" r="11.5"/><text class="lg" x="714" y="856">Module 12</text>
</g>
</svg>
